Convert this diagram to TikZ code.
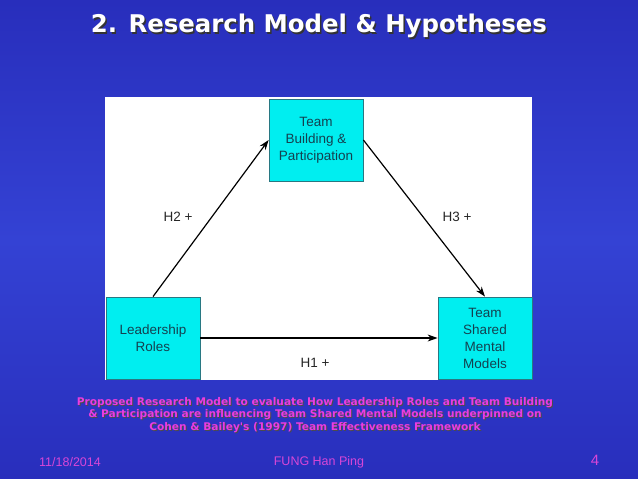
\documentclass[tikz,border=0pt]{standalone}
\usepackage{fontspec}
\setmainfont{Liberation Sans}
\newfontfamily\titlefont{DejaVu Sans}
\usetikzlibrary{arrows.meta}
\definecolor{bgtop}{RGB}{40,46,188}
\definecolor{bgmid}{RGB}{52,66,212}
\definecolor{boxfill}{RGB}{0,238,240}
\definecolor{boxline}{RGB}{40,120,130}
\definecolor{boxtext}{RGB}{20,65,80}
\definecolor{capcol}{RGB}{235,60,225}
\definecolor{footcol}{RGB}{215,70,215}
\tikzset{
  box/.style={draw=boxline, line width=0.8pt, fill=boxfill, text=boxtext,
    minimum width=94pt, minimum height=82pt, inner sep=0pt, align=center,
    font=\fontsize{13.5}{17}\selectfont},
  link/.style={draw=black, line width=1.2pt, -{Stealth[length=10pt,width=7pt]}},
  hlabel/.style={text=black!85, font=\fontsize{13.5}{16}\selectfont, inner sep=0pt},
  caption/.style={font=\titlefont\bfseries\fontsize{10.6}{12.4}\selectfont, align=center, inner sep=0pt},
  foot/.style={text=footcol, font=\fontsize{12.5}{15}\selectfont, inner sep=0pt}
}
\begin{document}
\begin{tikzpicture}[x=1pt,y=-1pt]
\useasboundingbox (0,0) rectangle (638,479);
\shade[top color=bgtop, bottom color=bgmid] (0,0) rectangle (638,240);
\shade[top color=bgmid, bottom color=bgtop] (0,240) rectangle (638,479);
% title
\node[text=black!80, inner sep=0pt] at (320.5,27.5) {\resizebox{456pt}{!}{\titlefont\bfseries 2. Research Model \& Hypotheses}};
\node (title) [text=white, inner sep=0pt] at (319,26) {\resizebox{456pt}{!}{\titlefont\bfseries 2. Research Model \& Hypotheses}};
% panel
\fill[white] (105,97) rectangle (532,380);
% boxes
\node (T) [box] at (316,140) {Team\\Building \&\\Participation};
\node (L) [box] at (153,338) {Leadership\\Roles};
\node (S) [box] at (485,338) {Team\\Shared\\Mental\\Models};
% links
\draw[link] (L.north) -- (T.west);
\draw[link] (T.east) -- (S.north);
\draw[link] (L.east) -- (S.west);
\node (h2) [hlabel] at (178,217) {H2 +};
\node (h3) [hlabel] at (457,217) {H3 +};
\node (h1) [hlabel] at (315,363) {H1 +};
% caption
\node[caption, text=black!70] at (316,415.8) {Proposed Research Model to evaluate How Leadership Roles and Team Building\\\& Participation are influencing Team Shared Mental Models underpinned on\\Cohen \& Bailey's (1997) Team Effectiveness Framework};
\node (cap) [caption, text=capcol] at (315,414.8) {Proposed Research Model to evaluate How Leadership Roles and Team Building\\\& Participation are influencing Team Shared Mental Models underpinned on\\Cohen \& Bailey's (1997) Team Effectiveness Framework};
% footer
\node (date) [foot, anchor=west] at (39,462) {11/18/2014};
\node (name) [foot] at (319,462) {FUNG Han Ping};
\node (page) [foot, font=\fontsize{15}{18}\selectfont] at (595,460) {4};
\end{tikzpicture}
\end{document}
